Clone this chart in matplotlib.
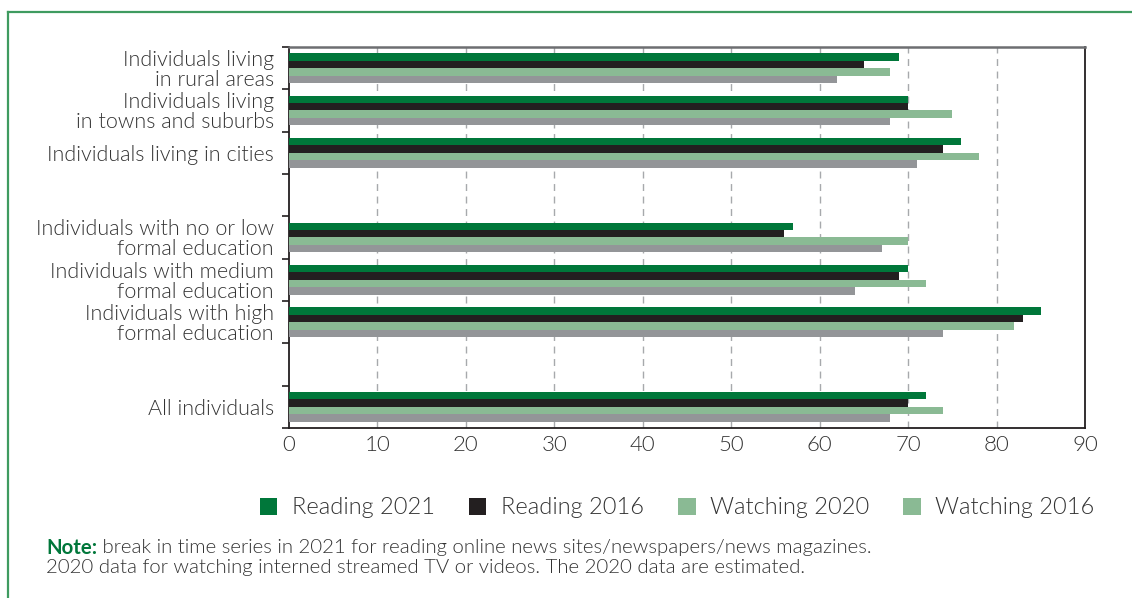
import matplotlib
matplotlib.use("Agg")
import matplotlib.pyplot as plt
from matplotlib.patches import Patch
from matplotlib.lines import Line2D
import numpy as np

plt.rcParams['font.family'] = ['Lato', 'DejaVu Sans']

# ---- data ----
group_area = ["Individuals living\nin rural areas",
              "Individuals living\nin towns and suburbs",
              "Individuals living in cities"]
group_edu = ["Individuals with no or low\nformal education",
             "Individuals with medium\nformal education",
             "Individuals with high\nformal education"]
group_all = ["All individuals"]

reading_2021 = [69, 70, 76, 57, 70, 85, 72]
reading_2016 = [65, 70, 74, 56, 69, 83, 70]
watching_2020 = [68, 75, 78, 70, 72, 82, 74]
watching_2016 = [62, 68, 71, 67, 64, 74, 68]

series_names = ["Reading 2021", "Reading 2016", "Watching 2020", "Watching 2016"]
xticks = [0, 10, 20, 30, 40, 50, 60, 70, 80, 90]

note_bold = "Note:"
note_rest = " break in time series in 2021 for reading online news sites/newspapers/news magazines."
note_line2 = "2020 data for watching interned streamed TV or videos. The 2020 data are estimated."

# ---- style ----
C_R21 = "#00773a"
C_R16 = "#231f20"
C_W20 = "#8aba94"
C_W16 = "#939598"
TXT = "#333333"
BORDER = "#3f9b60"
FW = 300

# layout: groups separated by one empty slot
groups = [group_area, group_edu, group_all]
labels = []
positions = []
slot = 0
for gi, g in enumerate(groups):
    for lab in g:
        labels.append(lab)
        positions.append(slot)
        slot += 1
    if gi < len(groups) - 1:
        slot += 1
n_slots = slot
positions = np.array(positions, dtype=float)

fig = plt.figure(figsize=(11.32, 5.98), dpi=100)
W, H = 1132, 598
ax = fig.add_axes([289 / W, 1 - 428 / H, (1085 - 289) / W, (428 - 47) / H])

bh = 0.175
offs = [-1.5 * bh, -0.5 * bh, 0.5 * bh, 1.5 * bh]
series = [reading_2021, reading_2016, watching_2020, watching_2016]
colors = [C_R21, C_R16, C_W20, C_W16]
for vals, off, c in zip(series, offs, colors):
    ax.barh(positions + off, vals, height=bh, color=c, zorder=3, linewidth=0)

ax.set_xlim(0, 90)
ax.set_ylim(n_slots - 0.5, -0.5)
ax.set_xticks(xticks)
ax.set_xticklabels([str(t) for t in xticks], fontsize=16, color=TXT, fontweight=FW)
ax.tick_params(axis='x', length=0, pad=5)

ax.set_yticks(positions)
ax.set_yticklabels(labels, fontsize=15.5, color=TXT, fontweight=FW, linespacing=1.0)
ax.tick_params(axis='y', which='major', length=0, pad=11)
ax.set_yticks(np.arange(-0.5, n_slots, 1.0), minor=True)
ax.tick_params(axis='y', which='minor', length=5, width=1.2, color="#231f20", direction='out')

for x in xticks[1:-1]:
    ax.axvline(x, color="#a7a9ac", linestyle=(0, (5, 4)), linewidth=1.0, zorder=1)

for side in ['left', 'bottom', 'right']:
    ax.spines[side].set_color("#231f20")
    ax.spines[side].set_linewidth(1.3)
ax.spines['top'].set_color("#6d6e71")
ax.spines['top'].set_linewidth(1.8)

# legend
handles = [Patch(facecolor=C_R21), Patch(facecolor=C_R16),
           Patch(facecolor=C_W20), Patch(facecolor=C_W20)]
leg = fig.legend(handles, series_names, loc='center', bbox_to_anchor=(677 / W, 1 - 508 / H),
                 ncol=4, frameon=False, fontsize=17, handlelength=0.75, handleheight=0.75,
                 columnspacing=1.45, handletextpad=0.6)
for t in leg.get_texts():
    t.set_color(TXT)
    t.set_fontweight(FW)

# note
ny1, ny2 = 1 - 548 / H, 1 - 568 / H
t1 = fig.text(46 / W, ny1, note_bold, fontsize=14.7, color=C_R21, fontweight='bold', va='center')
fig.canvas.draw()
bb = t1.get_window_extent()
fig.text(bb.x1 / W, ny1, note_rest, fontsize=14.7, color=TXT, fontweight=FW, va='center')
fig.text(46 / W, ny2, note_line2, fontsize=14.7, color=TXT, fontweight=FW, va='center')

# frame lines
fig.add_artist(Line2D([8 / W, 1], [1 - 12 / H, 1 - 12 / H], color=BORDER, linewidth=1.6, transform=fig.transFigure))
fig.add_artist(Line2D([8 / W, 8 / W], [0, 1 - 12 / H], color=BORDER, linewidth=1.6, transform=fig.transFigure))

fig.savefig("out.png", dpi=100)
